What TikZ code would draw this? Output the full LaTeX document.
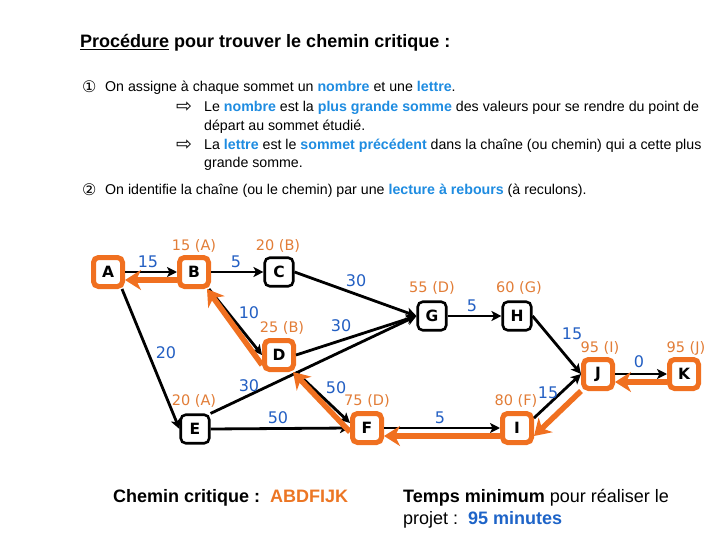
\documentclass[tikz,border=0pt]{standalone}
\usepackage{fontspec}
\setmainfont{Liberation Sans}
\newfontfamily\vfont{DejaVu Sans}
\usetikzlibrary{arrows.meta}
\definecolor{crit}{RGB}{240,112,32}
\definecolor{olab}{RGB}{226,125,55}
\definecolor{eblue}{RGB}{35,95,195}
\definecolor{hblue}{RGB}{30,140,225}
\definecolor{mblue}{RGB}{30,100,200}
\definecolor{abc}{RGB}{236,118,36}
\newcommand\hb[1]{\textcolor{hblue}{\textbf{#1}}}
\tikzset{
  nd/.style={draw=black, line width=2.6pt, rounded corners=5pt, minimum size=28.5pt,
    inner sep=0pt, fill=white, font=\vfont\bfseries\fontsize{15.5}{15.5}\selectfont},
  crn/.style={nd, draw=crit, line width=5pt, minimum size=29pt},
  ar/.style={line width=2.8pt, -{Stealth[length=10pt,width=10pt,inset=2.5pt]}},
  carr/.style={draw=crit, line width=5.5pt, -{Stealth[length=16pt,width=20pt,inset=5pt]}},
  el/.style={font=\vfont\fontsize{16}{16}\selectfont, text=eblue, inner sep=0pt},
  ol/.style={font=\vfont\fontsize{14.5}{14.5}\selectfont, text=olab, inner sep=0pt},
  tx/.style={anchor=base west, inner sep=0pt, font=\fontsize{14.2}{17}\selectfont},
  sy/.style={anchor=base west, inner sep=0pt, font=\vfont\fontsize{16}{16}\selectfont},
  bt/.style={anchor=base west, inner sep=0pt, font=\fontsize{18}{21}\selectfont}
}
\begin{document}
\begin{tikzpicture}[x=1pt,y=-1pt]
\useasboundingbox[fill=white] (0,0) rectangle (720,540);

% header
\node[anchor=base west, inner sep=0pt, font=\bfseries\fontsize{18}{21}\selectfont] (title) at (80,48)
  {\underline{Procédure} pour trouver le chemin critique :};
\node[sy] (s1) at (82,93) {①};
\node[tx] (t1) at (105,92) {On assigne à chaque sommet un \hb{nombre} et une \hb{lettre}.};
\node[sy, font=\vfont\fontsize{19}{19}\selectfont] (a1) at (176,113) {⇨};
\node[tx] (t2) at (204,112) {Le \hb{nombre} est la \hb{plus grande somme} des valeurs pour se rendre du point de};
\node[tx] (t3) at (204,131) {départ au sommet étudié.};
\node[sy, font=\vfont\fontsize{19}{19}\selectfont] (a2) at (176,151) {⇨};
\node[tx] (t4) at (204,150) {La \hb{lettre} est le \hb{sommet précédent} dans la chaîne (ou chemin) qui a cette plus};
\node[tx] (t5) at (204,168) {grande somme.};
\node[sy] (s2) at (82,196) {②};
\node[tx] (t6) at (105,195) {On identifie la chaîne (ou le chemin) par une \hb{lecture à rebours} (à reculons).};

% nodes
\node[crn] (A) at (108,272) {A};
\node[crn] (B) at (194,272) {B};
\node[nd]  (C) at (279,272) {C};
\node[crn] (D) at (279,355) {D};
\node[nd]  (E) at (195,429) {E};
\node[crn] (F) at (367,428) {F};
\node[nd]  (G) at (432,316) {G};
\node[nd]  (H) at (517,316) {H};
\node[crn] (I) at (517,428) {I};
\node[crn] (J) at (598,374) {J};
\node[crn] (K) at (684,374) {K};

% black edges
\draw[ar] (A.east) -- (B.west);
\draw[ar] (B.east) -- (C.west);
\draw[ar] ([xshift=-3pt]A.south east) -- (E.west);
\draw[ar] ([xshift=-2pt]B.south east) -- (D.west);
\draw[ar] (C.east) -- (G.west);
\draw[ar] (D.east) -- (G.west);
\draw[ar] (E.north east) -- (G.west);
\draw[ar] (D.south east) -- ([yshift=5pt]F.west);
\draw[ar] (E.east) -- (F.west);
\draw[ar] (F.east) -- (I.west);
\draw[ar] (G.east) -- (H.west);
\draw[ar] (H.east) -- (J.west);
\draw[ar] ([yshift=-7pt]I.north east) -- (J.west);
\draw[ar] (J.east) -- (K.west);

% critical path (backward reading)
\draw[carr] ([yshift=-8pt]K.west) -- ([yshift=-8pt]J.east);
\draw[carr] (J.south west) -- ([yshift=-8pt]I.east);
\draw[carr] ([yshift=-8pt]I.west) -- ([yshift=-8pt]F.east);
\draw[carr] ([yshift=-4pt]F.west) -- ([xshift=-3pt]D.south east);
\draw[carr] ([yshift=-10pt]D.west) -- ([xshift=-4pt]B.south east);
\draw[carr] ([yshift=-8pt]B.west) -- ([yshift=-8pt]A.east);

% edge labels
\node[el] (l1) at (148,262) {15};
\node[el] (l2) at (236,262) {5};
\node[el] (l3) at (356,281) {30};
\node[el] (l4) at (249,313) {10};
\node[el] (l5) at (341,326) {30};
\node[el] (l6) at (166,353) {20};
\node[el] (l7) at (249,386) {30};
\node[el] (l8) at (336,388) {50};
\node[el] (l9) at (278,418) {50};
\node[el] (l10) at (440,418) {5};
\node[el] (l11) at (472,306) {5};
\node[el] (l12) at (572,334) {15};
\node[el] (l13) at (548,393) {15};
\node[el] (l14) at (639,362) {0};

% vertex values
\node[ol] (vB) at (194,246) {15 (A)};
\node[ol] (vC) at (278,246) {20 (B)};
\node[ol] (vD) at (282,328) {25 (B)};
\node[ol] (vE) at (194,401) {20 (A)};
\node[ol] (vF) at (367,401) {75 (D)};
\node[ol] (vG) at (432,288) {55 (D)};
\node[ol] (vH) at (519,288) {60 (G)};
\node[ol] (vI) at (516,401) {80 (F)};
\node[ol] (vJ) at (600,348) {95 (I)};
\node[ol] (vK) at (686,348) {95 (J)};

% bottom
\node[bt] (b1) at (113,502) {\textbf{Chemin critique :\ \ \textcolor{abc}{ABDFIJK}}};
\node[bt] (b2) at (403,502) {\textbf{Temps minimum} pour réaliser le};
\node[bt] (b3) at (403,524) {projet :\ \ \textcolor{mblue}{\textbf{95 minutes}}};
\end{tikzpicture}
\end{document}
